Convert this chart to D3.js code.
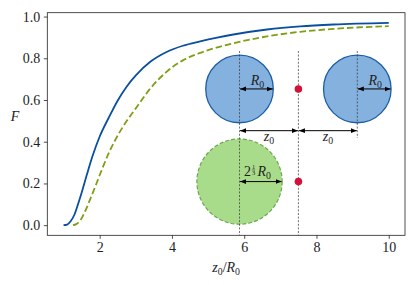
<!DOCTYPE html>
<html>
<head>
<meta charset="utf-8">
<script src="https://cdn.jsdelivr.net/npm/d3@7"></script>
<style>
  body { margin: 0; background: #fff; }
  text { font-family: "Liberation Serif", "DejaVu Serif", serif; fill: #1e1e1e; }
</style>
</head>
<body>
<div id="chart"></div>
<script>
// curve values
const blueX = [1.0, 1.1, 1.2, 1.3, 1.4, 1.5, 1.65, 1.8, 2.0, 2.25, 2.5, 2.75, 3.0, 3.4, 3.85, 4.3, 4.78, 5.25, 5.7, 6.63, 7.55, 8.47, 10];
const blueF = [0, 0.003, 0.02, 0.05, 0.1, 0.155, 0.245, 0.33, 0.425, 0.515, 0.598, 0.665, 0.718, 0.783, 0.83, 0.86, 0.881, 0.899, 0.914, 0.938, 0.953, 0.962, 0.97];
const greenX = [1.26, 1.35, 1.47, 1.6, 1.75, 1.9, 2.05, 2.25, 2.5, 2.75, 3.0, 3.4, 3.85, 4.3, 4.78, 5.25, 5.7, 6.63, 7.55, 8.47, 10];
const greenF = [0, 0.005, 0.025, 0.068, 0.13, 0.195, 0.262, 0.345, 0.43, 0.5, 0.56, 0.655, 0.735, 0.79, 0.826, 0.852, 0.872, 0.905, 0.927, 0.941, 0.954];
const xTicks = [2, 4, 6, 8, 10];
const yTicks = [0.0, 0.2, 0.4, 0.6, 0.8, 1.0];

// sketch inside the axes, in data units
const sketchX = [5.87, 7.5, 9.13];   // left sphere, red point, right sphere
const topRowF = 0.653;
const lowRowF = 0.209;
const arrowRowF = 0.453;
const sketchR = 0.935;
const bigR = 1.18;
const guideTopF = 0.835;
const guideEndF = [-0.2, -0.2, 0.418];

const W = 415, H = 285;
const mLeft = 47.3, mRight = 405, mTop = 12.7, mBottom = 235.3;
const fs = 14;

const x = d3.scaleLinear().domain([0.55, 10.45]).range([mLeft, mRight]);
const y = d3.scaleLinear().domain([-0.0485, 1.0185]).range([mBottom, mTop]);

const svg = d3.select("#chart").append("svg").attr("width", W).attr("height", H);

const defs = svg.append("defs");
defs.append("clipPath").attr("id", "clip")
  .append("rect").attr("x", mLeft).attr("y", mTop).attr("width", mRight - mLeft).attr("height", mBottom - mTop);
defs.append("marker").attr("id", "head")
  .attr("viewBox", "0 0 10 10").attr("refX", 10).attr("refY", 5)
  .attr("markerWidth", 6).attr("markerHeight", 6).attr("markerUnits", "userSpaceOnUse")
  .attr("orient", "auto-start-reverse")
  .append("path").attr("d", "M0,1 L10,5 L0,9 Z").attr("fill", "#000");

const plot = svg.append("g").attr("clip-path", "url(#clip)");

const line = d3.line().x((d) => x(d[0])).y((d) => y(d[1])).curve(d3.curveMonotoneX);

plot.append("path").datum(blueX.map((v, i) => [v, blueF[i]]))
  .attr("fill", "none").attr("stroke", "#0a4f9f").attr("stroke-width", 1.8).attr("d", line);
plot.append("path").datum(greenX.map((v, i) => [v, greenF[i]]))
  .attr("fill", "none").attr("stroke", "#7f9f14").attr("stroke-width", 1.8)
  .attr("stroke-dasharray", "6.5,3").attr("d", line);

// sketch: spheres
const px = (r) => x(r) - x(0);
plot.selectAll("circle.sphere").data([sketchX[0], sketchX[2]]).join("circle")
  .attr("class", "sphere")
  .attr("cx", (d) => x(d)).attr("cy", y(topRowF)).attr("r", px(sketchR))
  .attr("fill", "#85b1de").attr("stroke", "#1a5ea8").attr("stroke-width", 1.3);
plot.append("circle")
  .attr("cx", x(sketchX[0])).attr("cy", y(lowRowF)).attr("r", px(bigR))
  .attr("fill", "#a9dc8a").attr("stroke", "#6aa84c").attr("stroke-width", 1.2)
  .attr("stroke-dasharray", "4,2");

// guide lines
plot.selectAll("line.guide").data(sketchX).join("line")
  .attr("class", "guide")
  .attr("x1", (d) => x(d)).attr("x2", (d) => x(d))
  .attr("y1", y(guideTopF)).attr("y2", (d, i) => y(guideEndF[i]))
  .attr("stroke", "#333").attr("stroke-width", 0.7).attr("stroke-dasharray", "2,1.6");

// red points
plot.selectAll("circle.point").data([topRowF, lowRowF]).join("circle")
  .attr("class", "point")
  .attr("cx", x(sketchX[1])).attr("cy", (d) => y(d)).attr("r", 3.8)
  .attr("fill", "#d3123a");

// arrows
const arrows = [
  [sketchX[0], sketchX[0] + sketchR, topRowF],
  [sketchX[2], sketchX[2] + sketchR, topRowF],
  [sketchX[0], sketchX[1], arrowRowF],
  [sketchX[1], sketchX[2], arrowRowF],
  [sketchX[0], sketchX[0] + bigR, lowRowF]
];
plot.selectAll("line.arrow").data(arrows).join("line")
  .attr("class", "arrow")
  .attr("x1", (d) => x(d[0]) + 0.5).attr("x2", (d) => x(d[1]) - 0.5)
  .attr("y1", (d) => y(d[2])).attr("y2", (d) => y(d[2]))
  .attr("stroke", "#000").attr("stroke-width", 1)
  .attr("marker-start", "url(#head)").attr("marker-end", "url(#head)");

// math-like labels: italic letter with subscript
function mathLabel(g, parts, xPos, yPos, size) {
  const t = g.append("text").attr("x", xPos).attr("y", yPos)
    .attr("text-anchor", "middle").style("font-size", size + "px");
  parts.forEach((p) => {
    const s = t.append("tspan").text(p.t);
    if (p.i) s.style("font-style", "italic");
    if (p.sub) s.style("font-size", (size * 0.7) + "px").attr("dy", p.dy);
    if (p.back) s.attr("dy", p.back);
  });
  return t;
}
const R0 = [{ t: "R", i: true }, { t: "0", sub: true, dy: 3 }];
mathLabel(svg, R0, x(sketchX[0] + sketchR / 2) + 1, y(topRowF) - 4, fs);
mathLabel(svg, R0, x(sketchX[2] + sketchR / 2) + 1, y(topRowF) - 4, fs);
const z0 = [{ t: "z", i: true }, { t: "0", sub: true, dy: 3 }];
mathLabel(svg, z0, x((sketchX[0] + sketchX[1]) / 2), y(arrowRowF) + 10, fs);
mathLabel(svg, z0, x((sketchX[1] + sketchX[2]) / 2), y(arrowRowF) + 10, fs);

// 2^(1/3) R0 label with a stacked fraction
const fl = svg.append("g")
  .attr("transform", `translate(${x(sketchX[0]) + 4.5},${y(lowRowF) - 6})`);
fl.append("text").attr("x", 0).attr("y", 0).style("font-size", fs + "px").text("2");
fl.append("text").attr("x", 9.5).attr("y", -6.8).attr("text-anchor", "middle")
  .style("font-size", "6.5px").text("1");
fl.append("line").attr("x1", 7.8).attr("x2", 11.2).attr("y1", -5.6).attr("y2", -5.6)
  .attr("stroke", "#1e1e1e").attr("stroke-width", 0.5);
fl.append("text").attr("x", 9.5).attr("y", -0.6).attr("text-anchor", "middle")
  .style("font-size", "6.5px").text("3");
fl.append("text").attr("x", 13.5).attr("y", 0).style("font-size", fs + "px")
  .call((t) => {
    t.append("tspan").style("font-style", "italic").text("R");
    t.append("tspan").style("font-size", (fs * 0.7) + "px").attr("dy", 3).text("0");
  });

// frame
svg.append("rect").attr("x", mLeft).attr("y", mTop).attr("width", mRight - mLeft).attr("height", mBottom - mTop)
  .attr("fill", "none").attr("stroke", "#222").attr("stroke-width", 0.8);

// axes
const xAxis = d3.axisBottom(x).tickValues(xTicks).tickFormat(d3.format("d")).tickSize(3.5).tickPadding(3.5);
const yAxis = d3.axisLeft(y).tickValues(yTicks).tickFormat(d3.format(".1f")).tickSize(3.5).tickPadding(3.5);
const gx = svg.append("g").attr("transform", `translate(0,${mBottom})`).call(xAxis);
const gy = svg.append("g").attr("transform", `translate(${mLeft},0)`).call(yAxis);
[gx, gy].forEach((g) => {
  g.attr("font-family", null).attr("font-size", null);
  g.select(".domain").remove();
  g.selectAll(".tick line").attr("stroke", "#222").attr("stroke-width", 0.8);
  g.selectAll(".tick text").style("font-size", fs + "px").attr("fill", "#1e1e1e");
});

// axis labels
mathLabel(svg, [
  { t: "z", i: true }, { t: "0", sub: true, dy: 3 },
  { t: "/", back: -3 }, { t: "R", i: true }, { t: "0", sub: true, dy: 3 }
], (mLeft + mRight) / 2, 272, fs);
svg.append("text").attr("x", 15).attr("y", 121).attr("text-anchor", "middle")
  .style("font-size", fs + "px").style("font-style", "italic").text("F");
</script>
</body>
</html>
